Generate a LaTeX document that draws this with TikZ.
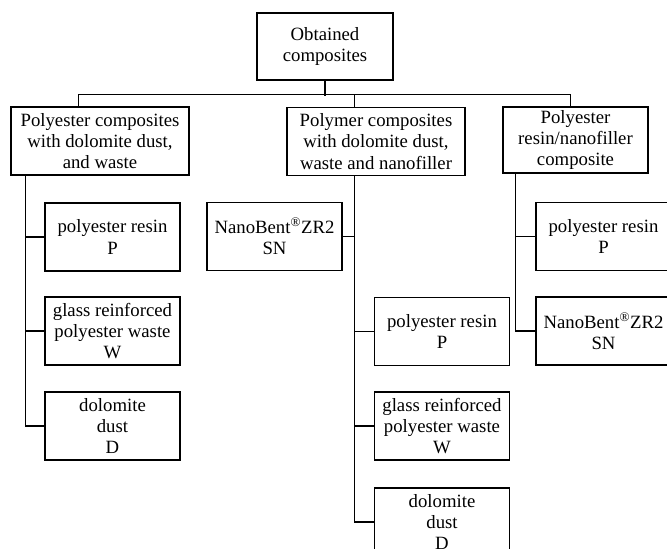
\documentclass[tikz,border=0pt]{standalone}
\usepackage{fontspec}
\setmainfont{Liberation Serif}
\usepackage{tikz}
\usetikzlibrary{calc}
\tikzstyle{box}=[rectangle,draw=black,fill=white,line width=1pt,align=center,inner sep=0pt,minimum width=4.05cm,minimum height=2.04cm,font=\fontsize{16}{18}\selectfont]
\tikzstyle{head}=[box,minimum width=5.34cm]
\tikzstyle{conn}=[draw=black,line width=1.2pt]

\begin{document}
\begin{tikzpicture}[x=0.03cm,y=-0.03cm]
  \useasboundingbox (0,0) rectangle (667,548);
  \clip (0,0) rectangle (667,548);
  %Nodes
  \node[box,minimum width=4.08cm,minimum height=2.01cm] (top) at (325,46.5) {Obtained\\composites};
  \node[head]      (L1)       at (100,141)   {Polyester composites\\with dolomite dust,\\and waste};
  \node[head]      (M1)       at (376,141.5) {Polymer composites\\with dolomite dust,\\waste and nanofiller};
  \node[head,minimum width=4.35cm,minimum height=1.98cm] (R1) at (575.5,140) {Polyester\\resin/nanofiller\\composite};

  \node[box]       (lP)       at (112.5,237) {polyester resin\\P};
  \node[box]       (lW)       at (112.5,331) {glass reinforced\\polyester waste\\W};
  \node[box]       (lD)       at (112.5,426) {dolomite\\dust\\D};

  \node[box]       (mSN)      at (274.5,236.5) {NanoBent\textsuperscript{\textregistered}ZR2\\SN};
  \node[box]       (mP)       at (442,331.5) {polyester resin\\P};
  \node[box]       (mW)       at (442,426)   {glass reinforced\\polyester waste\\W};
  \node[box]       (mD)       at (442,522)   {dolomite\\dust\\D};

  \node[box]       (rP)       at (603.5,236.5) {polyester resin\\P};
  \node[box]       (rSN)      at (603.5,331)   {NanoBent\textsuperscript{\textregistered}ZR2\\SN};

  %Lines
  \draw[conn] (top.south) -- ++(0,15);
  \draw[conn] ($(L1.north west)+(68,0)$) -- ++(0,-12) -| ($(R1.north west)+(68,0)$);
  \draw[conn] ($(M1.north west)+(68,0)$) -- ++(0,-12);

  \draw[conn] ($(L1.south west)+(15,0)$) |- (lP.west);
  \draw[conn] ($(L1.south west)+(15,0)$) |- (lW.west);
  \draw[conn] ($(L1.south west)+(15,0)$) |- (lD.west);

  \draw[conn] ($(M1.south west)+(68,0)$) |- (mSN.east);
  \draw[conn] ($(M1.south west)+(68,0)$) |- (mP.west);
  \draw[conn] ($(M1.south west)+(68,0)$) |- (mW.west);
  \draw[conn] ($(M1.south west)+(68,0)$) |- (mD.west);

  \draw[conn] ($(R1.south west)+(13,0)$) |- (rP.west);
  \draw[conn] ($(R1.south west)+(13,0)$) |- (rSN.west);
\end{tikzpicture}
\end{document}
